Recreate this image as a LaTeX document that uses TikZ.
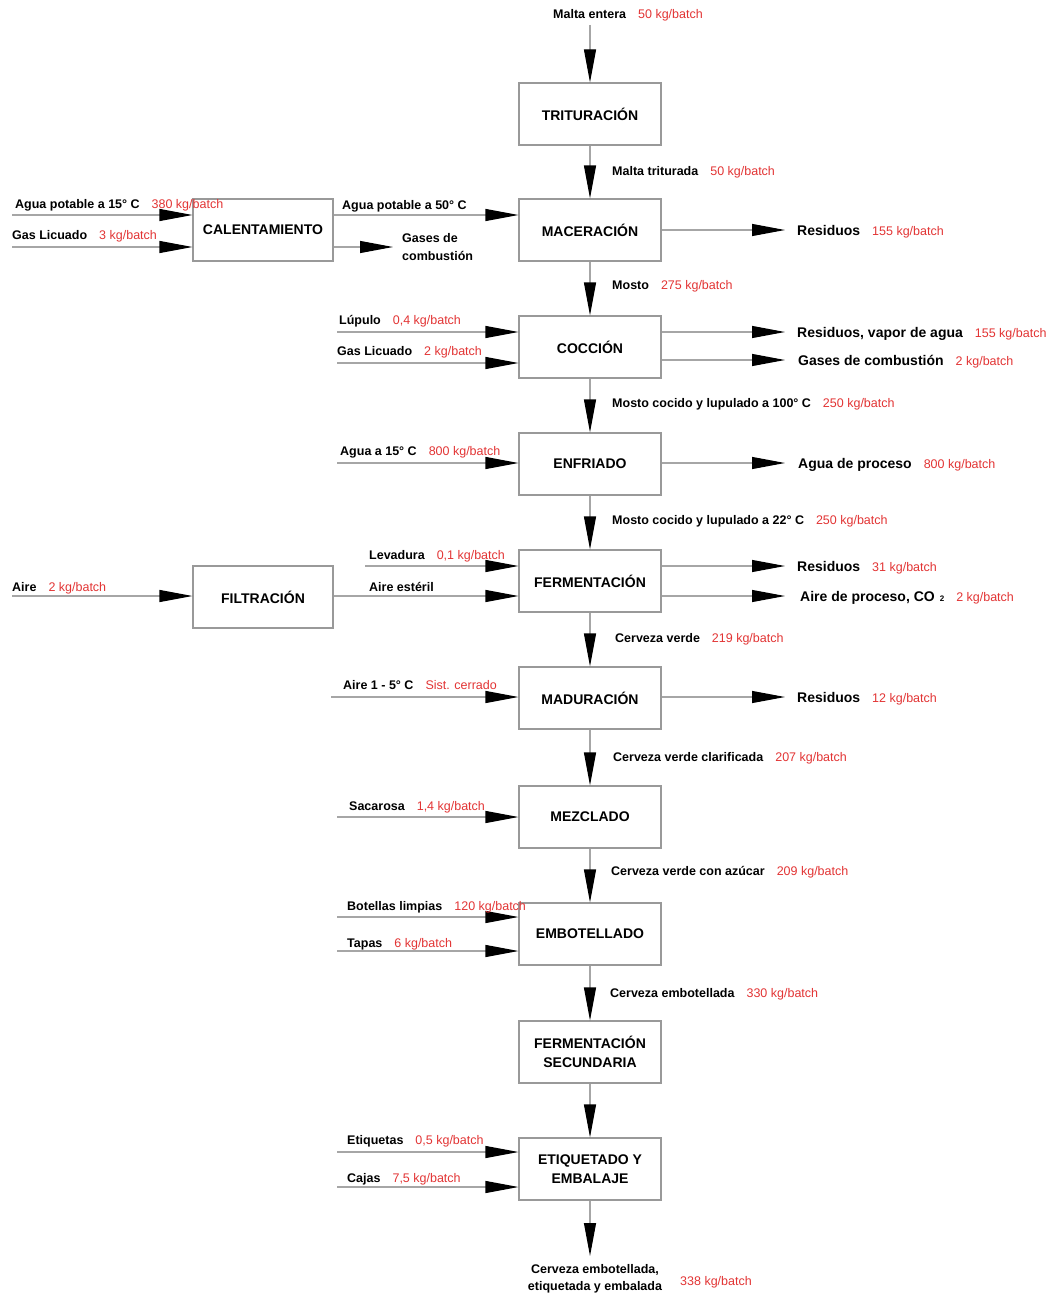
\documentclass[tikz,border=0pt]{standalone}
\usepackage{fontspec}
\setmainfont{Liberation Sans}
\usetikzlibrary{arrows.meta}

\definecolor{qtyred}{RGB}{226,52,52}
\newcommand{\kg}[1]{\hspace{12pt}{\mdseries\fontsize{12.5}{15}\selectfont\color{qtyred}#1 kg/batch}}

\begin{document}
\begin{tikzpicture}[x=1pt, y=-1pt,
  proc/.style={draw=gray!80, line width=1.1pt, minimum width=142pt, minimum height=62pt,
    align=center, font=\bfseries\fontsize{14}{19}\selectfont},
  arr/.style={draw=gray!70, line width=1.1pt, -{Triangle[length=33pt, width=12pt, color=black]}},
  flow/.style={anchor=base west, inner sep=0pt, font=\bfseries\fontsize{12.5}{15}\selectfont},
  outflow/.style={flow, font=\bfseries\fontsize{14}{17}\selectfont},
]
\useasboundingbox (0,0) rectangle (1055,1295);

% --- Main process column ---
\node[proc] (tri)  at (590,114)  {TRITURACIÓN};
\node[proc] (mac)  at (590,230)  {MACERACIÓN};
\node[proc] (coc)  at (590,347)  {COCCIÓN};
\node[proc] (enf)  at (590,464)  {ENFRIADO};
\node[proc] (fer)  at (590,581)  {FERMENTACIÓN};
\node[proc] (mad)  at (590,698)  {MADURACIÓN};
\node[proc] (mez)  at (590,817)  {MEZCLADO};
\node[proc] (emb)  at (590,934)  {EMBOTELLADO};
\node[proc] (fsec) at (590,1052) {FERMENTACIÓN\\SECUNDARIA};
\node[proc] (etq)  at (590,1169) {ETIQUETADO Y\\EMBALAJE};

% Side units
\node[proc, minimum width=140pt] (cal) at (263,230) {CALENTAMIENTO};
\node[proc, minimum width=140pt] (fil) at (263,597) {FILTRACIÓN};

% Main stream
\coordinate (malta) at (590,25);
\coordinate (final) at (590,1256);
\draw[arr] (malta) -- (tri);
\foreach \a/\b in {tri/mac, mac/coc, coc/enf, enf/fer, fer/mad, mad/mez, mez/emb, emb/fsec, fsec/etq}
  \draw[arr] (\a) -- (\b);
\draw[arr] (etq) -- (final);

\node[flow] (l-malta) at (553,19)  {Malta entera\kg{50}};
\node[flow] (l-trit)  at (612,175) {Malta triturada\kg{50}};
\node[flow] (l-mosto) at (612,289) {Mosto\kg{275}};
\node[flow] (l-m100)  at (612,407) {Mosto cocido y lupulado a 100° C\kg{250}};
\node[flow] (l-m22)   at (612,524) {Mosto cocido y lupulado a 22° C\kg{250}};
\node[flow] (l-cv)    at (615,642) {Cerveza verde\kg{219}};
\node[flow] (l-cvc)   at (613,761) {Cerveza verde clarificada\kg{207}};
\node[flow] (l-cva)   at (611,875) {Cerveza verde con azúcar\kg{209}};
\node[flow] (l-cemb)  at (610,997) {Cerveza embotellada\kg{330}};
\node[font=\bfseries\fontsize{12.5}{17}\selectfont, align=center, inner sep=0pt] (prod) at (595,1279)
  {Cerveza embotellada,\\etiquetada y embalada};
\node[flow, font=\fontsize{12.5}{15}\selectfont, text=qtyred] (prodkg) at (680,1285) {338 kg/batch};

% --- Heating ---
\coordinate (a15) at (12,215);
\coordinate (gl1) at (12,247);
\coordinate (gcal) at (393,247);
\draw[arr] (a15) -- (a15 -| cal.west);
\draw[arr] (gl1) -- (gl1 -| cal.west);
\draw[arr] (cal.east |- a15) -- (mac.west |- a15);
\draw[arr] (cal.east |- gcal) -- (gcal);
\node[flow] (l-a15) at (15,208)  {Agua potable a 15° C\kg{380}};
\node[flow] (l-gl1) at (12,239)  {Gas Licuado\kg{3}};
\node[flow] (l-a50) at (342,209) {Agua potable a 50° C};
\node[font=\bfseries\fontsize{12.5}{18}\selectfont, align=left, anchor=west, inner sep=0pt] (l-gcal)
  at (402,247) {Gases de\\combustión};

% --- Filtration ---
\coordinate (aire) at (12,596);
\draw[arr] (aire) -- (aire -| fil.west);
\draw[arr] (fil.east |- aire) -- (fer.west |- aire);
\node[flow] (l-aire) at (12,591)  {Aire\kg{2}};
\node[flow] (l-est)  at (369,591) {Aire estéril};

% --- Inputs to main column ---
\foreach \n/\x/\y/\b in {lup/337/332/coc, gl2/337/363/coc, a15b/337/463/enf, lev/365/566/fer,
    afr/331/697/mad, sac/337/817/mez, bot/337/917/emb, tap/337/951/emb, eti/337/1152/etq, caj/337/1187/etq}{
  \coordinate (\n) at (\x,\y);
  \draw[arr] (\n) -- (\n -| \b.west);
}
\node[flow] (l-lup)  at (339,324)  {Lúpulo\kg{0,4}};
\node[flow] (l-gl2)  at (337,355)  {Gas Licuado\kg{2}};
\node[flow] (l-a15b) at (340,455)  {Agua a 15° C\kg{800}};
\node[flow] (l-lev)  at (369,559)  {Levadura\kg{0,1}};
\node[flow] (l-afr)  at (343,689)  {Aire 1 - 5° C\hspace{12pt}{\mdseries\color{qtyred}Sist. cerrado}};
\node[flow] (l-sac)  at (349,810)  {Sacarosa\kg{1,4}};
\node[flow] (l-bot)  at (347,910)  {Botellas limpias\kg{120}};
\node[flow] (l-tap)  at (347,947)  {Tapas\kg{6}};
\node[flow] (l-eti)  at (347,1144) {Etiquetas\kg{0,5}};
\node[flow] (l-caj)  at (347,1182) {Cajas\kg{7,5}};

% --- Outputs of main column ---
\foreach \n/\y/\a in {rmac/230/mac, rcoc/332/coc, gcoc/360/coc, apro/463/enf,
    rfer/566/fer, afer/596/fer, rmad/697/mad}{
  \coordinate (\n) at (785,\y);
  \draw[arr] (\a.east |- \n) -- (\n);
}
\node[outflow] (l-rmac) at (797,235) {Residuos\kg{155}};
\node[outflow] (l-rcoc) at (797,337) {Residuos, vapor de agua\kg{155}};
\node[outflow] (l-gcoc) at (798,365) {Gases de combustión\kg{2}};
\node[outflow] (l-apro) at (798,468) {Agua de proceso\kg{800}};
\node[outflow] (l-rfer) at (797,571) {Residuos\kg{31}};
\node[outflow] (l-afer) at (800,601) {Aire de proceso, CO\hspace{5pt}{\fontsize{8}{8}\selectfont 2}\kg{2}};
\node[outflow] (l-rmad) at (797,702) {Residuos\kg{12}};

\end{tikzpicture}
\end{document}
